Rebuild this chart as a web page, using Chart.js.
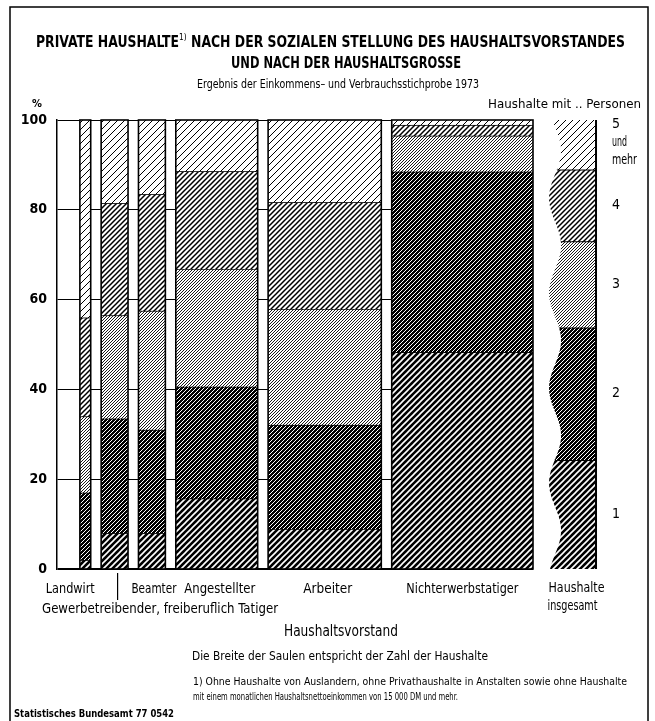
<!DOCTYPE html>
<html>
<head>
<meta charset="utf-8">
<style>
  html, body { margin: 0; padding: 0; background: #fff; }
  #wrap { position: relative; width: 655px; height: 721px; }
</style>
<script src="https://cdn.jsdelivr.net/npm/chart.js@4.4.1/dist/chart.umd.min.js"></script>
</head>
<body>
<div id="wrap"><canvas id="chart" width="655" height="721"></canvas></div>
<script>
// Haushaltsvorstand groups, width of each column = share of all households (%)
const groups = ["Landwirt", "Gewerbetreibender, freiberuflich Tatiger", "Beamter", "Angestellter", "Arbeiter", "Nichterwerbstatiger"];
const households = [2.7, 6.7, 6.7, 20.4, 28.2, 35.2];

// share of households with 1, 2, 3, 4, 5+ persons within each group (%)
const persons1 = [2, 8, 8, 15.7, 8.9, 48.3];
const persons2 = [15, 25.5, 23, 24.9, 23.2, 40.2];
const persons3 = [17, 23, 26.5, 26.2, 25.8, 8];
const persons4 = [22, 25, 26, 21.8, 23.8, 2.4];
const persons5 = [44, 18.5, 16.5, 11.4, 18.3, 1.1];

// Haushalte insgesamt, 1 .. 5+ persons (%)
const totals = [24.3, 29.5, 19.2, 16, 11];
const sizeLabels = [["1"], ["2"], ["3"], ["4"], ["5", "und", "mehr"]];

const yTicks = [0, 20, 40, 60, 80, 100];

const layers = [persons1, persons2, persons3, persons4, persons5];

// layout in x-scale units
const LEAD = 5.7;
const GAP = 2.6;
const TOTAL_GAP = 4;
const TOTAL_W = 11.7;
const xEnd = LEAD + households.reduce((a, b) => a + b, 0) + GAP * (households.length - 1);

const FONT = "'Liberation Sans Narrow', 'DejaVu Sans Condensed', 'Arial Narrow', 'Liberation Sans', sans-serif";

const canvas = document.getElementById("chart");
const ctx = canvas.getContext("2d");

function hatch(size, bg, fg, lw) {
  const c = document.createElement("canvas");
  c.width = c.height = size;
  const g = c.getContext("2d");
  g.fillStyle = bg;
  g.fillRect(0, 0, size, size);
  g.strokeStyle = fg;
  g.lineWidth = lw;
  g.beginPath();
  g.moveTo(-1, size + 1); g.lineTo(size + 1, -1);
  g.moveTo(-1, 1); g.lineTo(1, -1);
  g.moveTo(size - 1, size + 1); g.lineTo(size + 1, size - 1);
  g.stroke();
  return ctx.createPattern(c, "repeat");
}

const patterns = [
  hatch(6, "#000", "#fff", 1.6),
  hatch(4, "#000", "#fff", 1.0),
  hatch(3, "#fff", "#000", 0.9),
  hatch(5, "#fff", "#000", 1.5),
  hatch(7, "#fff", "#000", 1.0),
];

// text squeezed/stretched to a given width
function fitText(c, parts, x, y, width, align) {
  let total = 0;
  parts.forEach(p => { c.font = p.font; total += c.measureText(p.text).width; });
  const k = width ? width / total : 1;
  const w = total * k;
  const start = align === "center" ? x - w / 2 : align === "right" ? x - w : x;
  c.save();
  c.textBaseline = "middle";
  c.textAlign = "left";
  c.fillStyle = "#000";
  c.translate(start, y);
  c.scale(k, 1);
  let cx = 0;
  parts.forEach(p => {
    c.font = p.font;
    c.fillText(p.text, cx, p.dy || 0);
    cx += c.measureText(p.text).width;
  });
  c.restore();
}
function label(c, text, x, y, size, opts = {}) {
  fitText(c, [{ text, font: (opts.bold ? "bold " : "") + size + "px " + FONT }], x, y, opts.width, opts.align || "center");
}

const wave = (py, left) => left + 6 - 6 * Math.cos(2 * Math.PI * (py - 293) / 95);

const marimekko = {
  id: "marimekko",
  beforeDatasetsDraw(chart) {
    const { ctx: c, scales: { x, y } } = chart;
    c.save();
    c.strokeStyle = "#000";
    c.lineWidth = 1.6;
    let pos = LEAD;
    groups.forEach((g, i) => {
      const x0 = x.getPixelForValue(pos);
      const x1 = x.getPixelForValue(pos + households[i]);
      let cum = 0;
      layers.forEach((arr, k) => {
        const yTop = y.getPixelForValue(cum + arr[i]);
        const yBot = y.getPixelForValue(cum);
        c.fillStyle = patterns[k];
        c.fillRect(x0, yTop, x1 - x0, yBot - yTop);
        cum += arr[i];
        if (k < layers.length - 1) {
          c.beginPath(); c.moveTo(x0, yTop); c.lineTo(x1, yTop); c.stroke();
        }
      });
      c.strokeRect(x0, y.getPixelForValue(100), x1 - x0, y.getPixelForValue(0) - y.getPixelForValue(100));
      pos += households[i] + GAP;
    });

    // Haushalte insgesamt, wavy left edge
    const tx0 = x.getPixelForValue(xEnd + TOTAL_GAP);
    const tx1 = x.getPixelForValue(xEnd + TOTAL_GAP + TOTAL_W);
    let cum = 0;
    totals.forEach((v, k) => {
      const yTop = y.getPixelForValue(cum + v);
      const yBot = y.getPixelForValue(cum);
      c.beginPath();
      c.moveTo(tx1, yTop);
      c.lineTo(tx1, yBot);
      for (let py = yBot; py >= yTop; py -= 2) c.lineTo(wave(py, tx0), py);
      c.lineTo(wave(yTop, tx0), yTop);
      c.closePath();
      c.fillStyle = patterns[k];
      c.fill();
      if (k < totals.length - 1) {
        c.lineWidth = 2;
        c.beginPath(); c.moveTo(wave(yTop, tx0), yTop); c.lineTo(tx1, yTop); c.stroke();
      }
      cum += v;
    });
    c.lineWidth = 2;
    c.beginPath();
    c.moveTo(tx1, y.getPixelForValue(100));
    c.lineTo(tx1, y.getPixelForValue(0));
    c.stroke();
    c.restore();
  },
  afterDraw(chart) {
    const { ctx: c, scales: { x, y } } = chart;
    c.save();
    // frame
    c.strokeStyle = "#000";
    c.lineWidth = 1.5;
    c.strokeRect(10, 7, 638, 740);

    fitText(c, [
      { text: "PRIVATE HAUSHALTE", font: "bold 15px " + FONT },
      { text: "1)", font: "9px " + FONT, dy: -5 },
      { text: " NACH DER SOZIALEN STELLUNG DES HAUSHALTSVORSTANDES", font: "bold 15px " + FONT },
    ], 36, 43, 589, "left");
    label(c, "UND NACH DER HAUSHALTSGROSSE", 346, 64, 15, { bold: true, width: 230 });
    label(c, "Ergebnis der Einkommens\u2013 und Verbrauchsstichprobe 1973", 338, 85, 13, { width: 282 });

    label(c, "%", 37, 104, 11, { bold: true });
    label(c, "Haushalte mit .. Personen", 641, 105, 13, { align: "right", width: 153 });

    // size labels next to the total column
    const lx = x.getPixelForValue(xEnd + TOTAL_GAP + TOTAL_W) + 16;
    const labelW = { und: 15, mehr: 25 };
    let cum = 0;
    totals.forEach((v, k) => {
      const mid = y.getPixelForValue(cum + v / 2);
      const lines = sizeLabels[k];
      lines.forEach((t, j) => label(c, t, lx, mid + (j - (lines.length - 1) / 2) * 18 - (lines.length > 1 ? 2 : 0), 14, { align: "left", width: labelW[t] }));
      cum += v;
    });

    // group labels
    let pos = LEAD;
    const centers = households.map(w => { const m = pos + w / 2; pos += w + GAP; return x.getPixelForValue(m); });
    const ly = 589;
    label(c, groups[0], centers[0] - 15, ly, 14, { width: 49 });
    label(c, groups[2], centers[2] + 2, ly, 14, { width: 45 });
    label(c, groups[3], centers[3] + 3, ly, 14, { width: 71 });
    label(c, groups[4], centers[4] + 3, ly, 14, { width: 49 });
    label(c, groups[5], centers[5], ly, 14, { width: 112 });
    const tc = (x.getPixelForValue(xEnd + TOTAL_GAP) + x.getPixelForValue(xEnd + TOTAL_GAP + TOTAL_W)) / 2;
    label(c, "Haushalte", tc + 4, ly - 1, 14, { width: 56 });
    label(c, "insgesamt", tc, ly + 17, 14, { width: 50 });
    c.lineWidth = 1.2;
    c.beginPath();
    c.moveTo(centers[1] + 3, 573);
    c.lineTo(centers[1] + 3, 600);
    c.stroke();
    label(c, groups[1], 42, 609, 14, { align: "left", width: 236 });

    label(c, "Haushaltsvorstand", 341, 632, 15, { width: 114 });
    label(c, "Die Breite der Saulen entspricht der Zahl der Haushalte", 340, 657, 12, { width: 296 });
    label(c, "1) Ohne Haushalte von Auslandern, ohne Privathaushalte in Anstalten sowie ohne Haushalte", 193, 682, 11, { align: "left", width: 434 });
    label(c, "mit einem monatlichen Haushaltsnettoeinkommen von 15 000 DM und mehr.", 193, 697, 10, { align: "left", width: 265 });
    label(c, "Statistisches Bundesamt 77 0542", 14, 714, 10, { bold: true, align: "left", width: 160 });
    c.restore();
  },
};

new Chart(canvas, {
  type: "scatter",
  data: { datasets: [{ data: [], showLine: false }] },
  options: {
    responsive: false,
    animation: false,
    events: [],
    layout: { padding: { top: 120, bottom: 152, left: 0, right: 122 } },
    plugins: { legend: { display: false }, tooltip: { enabled: false } },
    scales: {
      x: { type: "linear", min: 0, max: xEnd, display: false },
      y: {
        type: "linear",
        min: 0,
        max: 100,
        afterBuildTicks: s => { s.ticks = yTicks.map(v => ({ value: v })); },
        afterFit: s => { s.width = 57; },
        ticks: { color: "#000", padding: 10, font: { family: FONT, size: 14, weight: "bold" } },
        grid: { color: "#000", lineWidth: c => (c.tick && c.tick.value === 0 ? 2 : 1), drawTicks: false },
        border: { display: true, color: "#000", width: 1.5 },
      },
    },
  },
  plugins: [marimekko],
});
</script>
</body>
</html>
